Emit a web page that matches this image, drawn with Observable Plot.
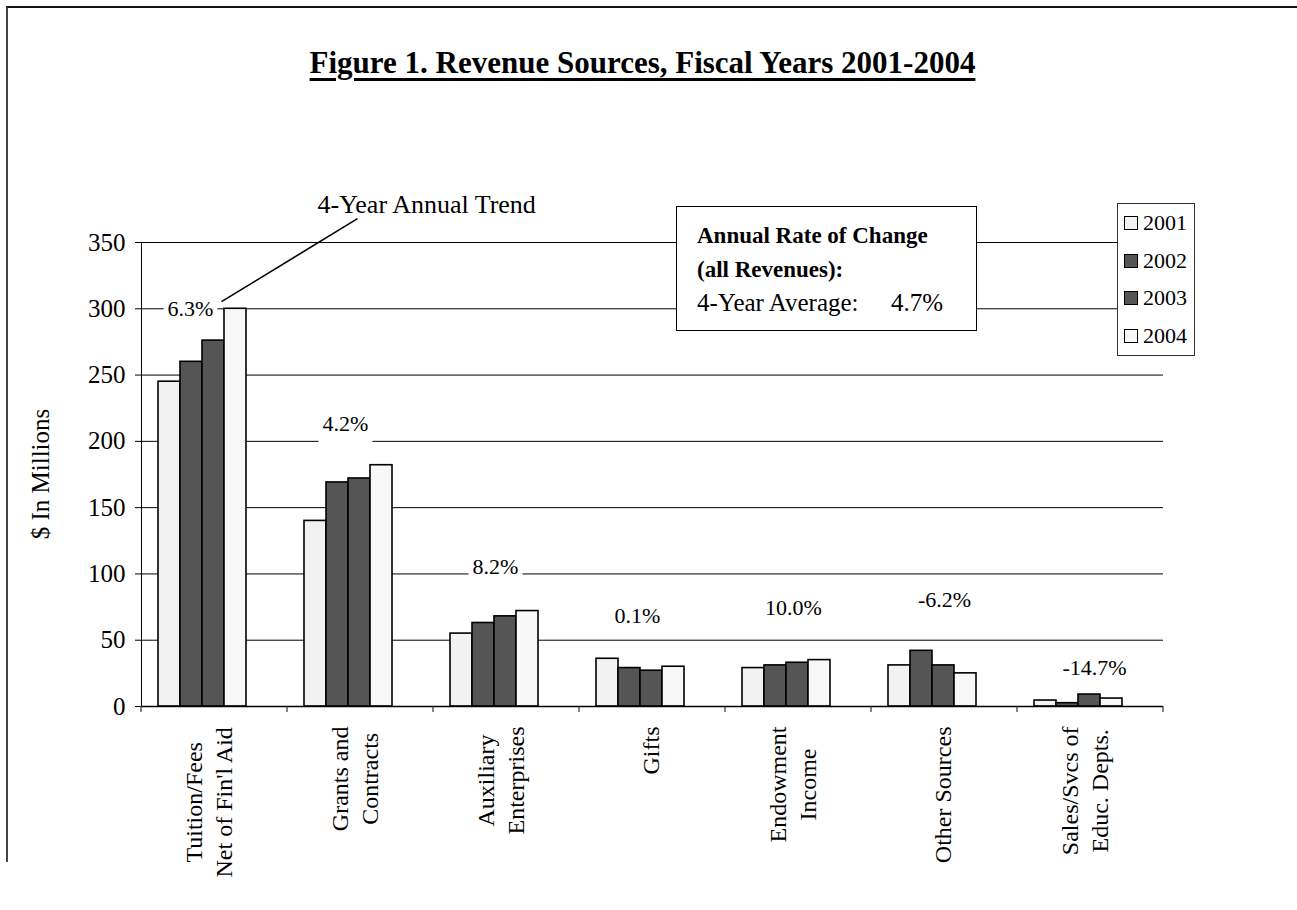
<!DOCTYPE html>
<html><head><meta charset="utf-8">
<script src="https://cdn.jsdelivr.net/npm/d3@7"></script>
<script src="https://cdn.jsdelivr.net/npm/@observablehq/plot@0.6"></script>
<style>
body{margin:0;background:#fff;}
#wrap{position:relative;width:1297px;height:910px;overflow:hidden;font-family:"Liberation Serif","Times New Roman",serif;color:#000;}
#border{position:absolute;left:6px;top:6px;width:1320px;height:854px;border-top:2px solid #111;border-left:2px solid #444;}
#chart{position:absolute;left:0;top:0;}
#title{position:absolute;top:45px;left:-6px;width:1297px;text-align:center;font-weight:bold;font-size:31px;line-height:36px;}
#title span{text-decoration:underline;text-decoration-thickness:3px;text-underline-offset:5px;}
#note{position:absolute;left:676px;top:206px;width:299px;height:123px;border:1.5px solid #000;background:#fff;font-size:23px;box-sizing:content-box;}
#note div{position:absolute;left:20px;white-space:nowrap;}
#legend{position:absolute;left:1117px;top:203px;width:76px;height:151px;border:1.5px solid #333;background:#fff;}
.item{position:absolute;left:6px;height:24px;font-size:22px;line-height:24px;white-space:nowrap;}
.sw{display:inline-block;width:12px;height:12px;border:1.5px solid #000;vertical-align:middle;margin-right:5px;position:relative;top:-2px;}
</style></head>
<body>
<div id="wrap">
  <div id="border"></div>
  <div id="chart"></div>
  <div id="title"><span>Figure 1. Revenue Sources, Fiscal Years 2001-2004</span></div>
  <div id="note"></div>
  <div id="legend"></div>
</div>
<script>
// ---- data ----
const categories = ["Tuition/Fees\nNet of Fin'l Aid", "Grants and\nContracts", "Auxiliary\nEnterprises", "Gifts", "Endowment\nIncome", "Other Sources", "Sales/Svcs of\nEduc. Depts."];
const years = ["2001", "2002", "2003", "2004"];
const rev2001 = [245, 140, 55, 36, 29, 31, 4.5];
const rev2002 = [260, 169, 63, 29, 31, 42, 2.5];
const rev2003 = [276, 172, 68, 27, 33, 31, 9];
const rev2004 = [300, 182, 72, 30, 35, 25, 6];
const trendLabels = ["6.3%", "4.2%", "8.2%", "0.1%", "10.0%", "-6.2%", "-14.7%"];
const yTicks = [0, 50, 100, 150, 200, 250, 300, 350];
const noteLines = ["Annual Rate of Change", "(all Revenues):", "4-Year Average:"];
const allRevenueRate = "4.7%";
const trendTitle = "4-Year Annual Trend";
const yTitle = "$ In Millions";

// ---- styles / annotation layout ----
const barColors = ["#f2f2f2", "#555555", "#555555", "#f8f8f8"];
const trendLabelAt = [300, 213.5, 105, 68, 74, 80, 28.7];   // label centre, in $M
const trendLabelDx = [-24, -15, -11, -15, -5, 0, 4];
const FONT = "'Liberation Serif', 'Times New Roman', serif";
const INSET_L = 15, INSET_R = 40;

const series = [rev2001, rev2002, rev2003, rev2004];
const rows = categories.flatMap((c, i) => years.map((yr, j) => ({cat: c, year: yr, value: series[j][i]})));

// measure label widths for rotated multi-line category labels
const ctx = document.createElement("canvas").getContext("2d");
ctx.font = "24px 'Liberation Serif'";
const maxW = c => Math.max(...c.split("\n").map(s => ctx.measureText(s).width));

const marks = [
  Plot.ruleY(yTicks.slice(1), {stroke: "#000", strokeWidth: 1}),
  Plot.barY(rows, {x: "year", y: "value", fill: "year", stroke: "#000", strokeWidth: 1.6}),
  Plot.ruleY([0], {stroke: "#000", strokeWidth: 1.5}),
  ...trendLabels.map((t, i) => Plot.text(rows, {
    filter: d => d.cat === categories[i] && d.year === years[0],
    y: () => trendLabelAt[i], text: () => t, dx: trendLabelDx[i],
    fontSize: 22, fill: "#000"
  })),
  ...categories.map((c, i) => Plot.text(rows, {
    filter: d => d.cat === c && d.year === years[0],
    text: "cat", frameAnchor: "bottom", rotate: -90, textAnchor: "middle", lineAnchor: "middle",
    lineHeight: 1.25, fontSize: 24, fill: "#000", dx: c.includes("\n") ? -7 : -3, dy: 20 + maxW(c) / 2
  }))
];

const chart = Plot.plot({
  width: 1297, height: 910,
  marginLeft: 140, marginRight: 134, marginTop: 242, marginBottom: 204,
  style: {fontFamily: FONT, fontSize: "25px", color: "#000", background: "transparent", overflow: "visible"},
  facet: {data: rows, x: "cat"},
  fx: {domain: categories, padding: 0, axis: null, label: null},
  x: {domain: years, padding: 0, insetLeft: INSET_L, insetRight: INSET_R, axis: null, label: null},
  y: {domain: [0, 350], ticks: yTicks, tickSize: 6, tickPadding: 10, line: true, label: null, tickFormat: d => String(d)},
  color: {domain: years, range: barColors},
  marks
});
document.getElementById("chart").appendChild(chart);

// ---- post: white boxes behind trend labels, axis ticks, leader line ----
const svg = d3.select(chart);
svg.selectAll("text").filter(function () { return trendLabels.includes(this.textContent); }).each(function () {
  const b = this.getBBox();
  const r = document.createElementNS("http://www.w3.org/2000/svg", "rect");
  r.setAttribute("x", b.x - 4); r.setAttribute("y", b.y - 9);
  r.setAttribute("width", b.width + 8); r.setAttribute("height", b.height + 18);
  r.setAttribute("fill", "#fff");
  if (this.getAttribute("transform")) r.setAttribute("transform", this.getAttribute("transform"));
  this.parentNode.insertBefore(r, this);
});

const fx = chart.scale("fx"), xs = chart.scale("x"), ys = chart.scale("y");
const y0 = ys.apply(0);
const bounds = categories.map(c => fx.apply(c)).concat([fx.apply(categories[categories.length - 1]) + fx.bandwidth]);
const over = svg.append("g");
bounds.forEach(bx => over.append("line").attr("x1", bx).attr("x2", bx).attr("y1", y0).attr("y2", y0 + 6).attr("stroke", "#333").attr("stroke-width", 1.2));

// global x of the left edge of the 2004 bar in the first group
const barLeft = fx.apply(categories[0]) + (xs.apply(years[3]) - xs.range[0]) + INSET_L;
const lx = barLeft - 2.5, ly = ys.apply(305);
over.append("line").attr("x1", lx).attr("y1", ly).attr("x2", lx + 136).attr("y2", ly - 83).attr("stroke", "#000").attr("stroke-width", 1.6);
over.append("text").attr("x", lx + 96).attr("y", ly - 89).attr("text-anchor", "start").attr("font-size", 26).attr("font-family", FONT).attr("fill", "#000").text(trendTitle);

over.append("text").attr("transform", `translate(49,${ys.apply(175)}) rotate(-90)`)
  .attr("text-anchor", "middle").attr("font-size", 25).attr("font-family", FONT).attr("fill", "#000").text(yTitle);

// ---- note box ----
const note = document.getElementById("note");
const tops = [16, 50, 82];
noteLines.forEach((t, i) => {
  const d = document.createElement("div");
  d.style.top = tops[i] + "px";
  if (i < 2) d.style.fontWeight = "bold"; else d.style.fontSize = "25px";
  d.textContent = t;
  note.appendChild(d);
});
const rate = document.createElement("div");
rate.style.top = tops[2] + "px"; rate.style.left = "214px"; rate.style.fontSize = "25px"; rate.textContent = allRevenueRate;
note.appendChild(rate);

// ---- legend ----
const legend = document.getElementById("legend");
years.forEach((yr, i) => {
  const it = document.createElement("div");
  it.className = "item";
  it.style.top = (7 + i * 37.7) + "px";
  it.innerHTML = `<span class="sw" style="background:${barColors[i]}"></span>${yr}`;
  legend.appendChild(it);
});
</script>
</body></html>
